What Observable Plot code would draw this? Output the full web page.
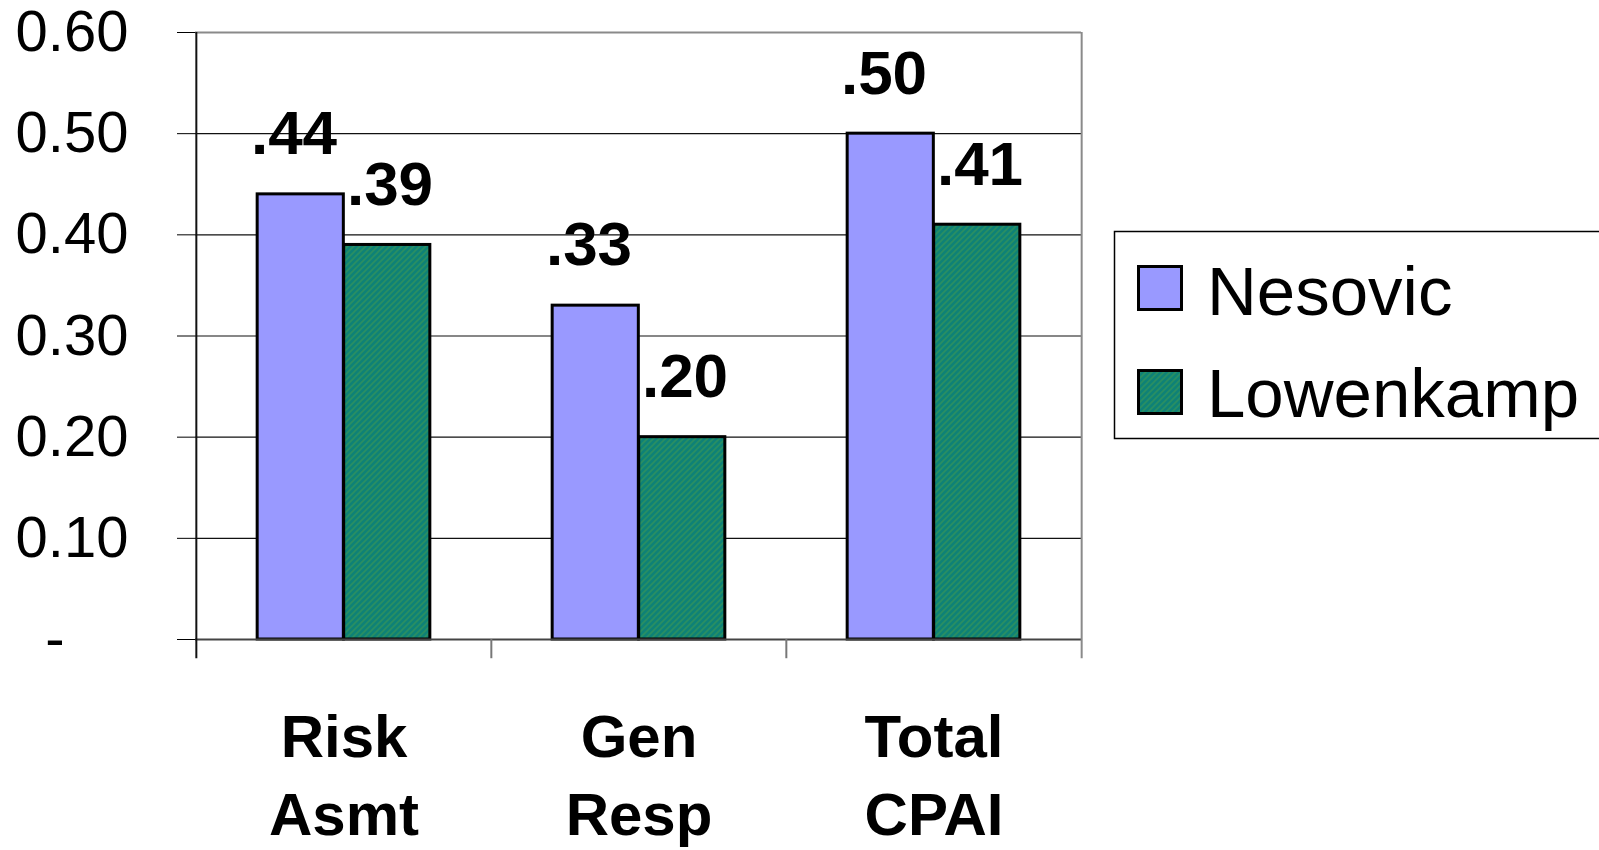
<!DOCTYPE html>
<html>
<head>
<meta charset="utf-8">
<script src="https://cdn.jsdelivr.net/npm/d3@7"></script>
<script src="https://cdn.jsdelivr.net/npm/@observablehq/plot@0.6"></script>
<style>
  html, body { margin: 0; padding: 0; background: #fff; }
  #wrap { position: relative; width: 1599px; height: 850px; overflow: hidden; }
  #legend { position: absolute; left: 1100px; top: 220px; }
</style>
</head>
<body>
<div id="wrap"></div>
<script>
// ---- data ----
const categories = ["Risk Asmt", "Gen Resp", "Total CPAI"];
const categoryLines = [["Risk", "Asmt"], ["Gen", "Resp"], ["Total", "CPAI"]];
const series = ["Nesovic", "Lowenkamp"];
const nesovic = [0.44, 0.33, 0.50];
const lowenkamp = [0.39, 0.20, 0.41];
const yTicks = [0, 0.1, 0.2, 0.3, 0.4, 0.5, 0.6];
const yTickLabels = ["-", "0.10", "0.20", "0.30", "0.40", "0.50", "0.60"];

// ---- styling ----
const FONT = "'Liberation Sans', Arial, Helvetica, sans-serif";
const W = 1599, H = 850;
const mL = 195, mR = 518, mT = 32, mB = 211;
const half = (W - mL - mR) / categories.length / 2;
const barW = 86.5;
const purple = "#9999ff";
const hatch = "url(#hatchGreen)";
const below = -0.019; // separator extension below baseline (in y units)

const nesRows = categories.map((c, i) => ({category: c, value: nesovic[i], series: series[0]}));
const lowRows = categories.map((c, i) => ({category: c, value: lowenkamp[i], series: series[1]}));
const fmt = v => v.toFixed(2).replace(/^0/, "");
const catText = c => categoryLines[categories.indexOf(c)].join("\n");

const plot = Plot.plot({
  width: W, height: H,
  marginLeft: mL, marginRight: mR, marginTop: mT, marginBottom: mB,
  style: {fontFamily: FONT, fontSize: "58px", color: "#000", background: "transparent", overflow: "visible"},
  x: {domain: categories, padding: 0, axis: null},
  y: {domain: [0, 0.6], ticks: yTicks, tickSize: 18, tickPadding: 49,
      tickFormat: d => d === 0 ? "" : yTickLabels[yTicks.indexOf(d)], label: null},
  marks: [
    // gridlines
    Plot.ruleY(yTicks.slice(1, -1), {stroke: "#111", strokeWidth: 1.2}),
    Plot.ruleY([0.6], {stroke: "#8a8a8a", strokeWidth: 2}),
    // bars
    Plot.barY(nesRows, {x: "category", y: "value", fill: purple, stroke: "#000", strokeWidth: 3,
      insetLeft: half - barW, insetRight: half}),
    Plot.barY(lowRows, {x: "category", y: "value", fill: hatch, stroke: "#000", strokeWidth: 3,
      insetLeft: half, insetRight: half - barW}),
    // baseline
    Plot.ruleY([0], {stroke: "#444", strokeWidth: 2}),
    // left axis line
    Plot.ruleX([categories[0]], {x: d => d, y1: below, y2: 0.6, dx: -half, stroke: "#111", strokeWidth: 2}),
    // category separators
    Plot.ruleX(categories.slice(1), {x: d => d, y1: below, y2: 0, dx: -half, stroke: "#777", strokeWidth: 2}),
    // right border
    Plot.ruleX([categories[categories.length - 1]], {x: d => d, y1: below, y2: 0.6, dx: half, stroke: "#8a8a8a", strokeWidth: 2}),
    // "-" zero label
    Plot.text([0], {y: d => d, text: d => yTickLabels[yTicks.indexOf(d)], frameAnchor: "left",
      textAnchor: "end", dx: -131, fontSize: 58}),
    // value labels
    Plot.text(nesRows, {x: "category", y: "value", text: d => fmt(d.value), dx: -50, dy: -60,
      fontSize: 62, fontWeight: "bold", lineAnchor: "middle"}),
    Plot.text(lowRows, {x: "category", y: "value", text: d => fmt(d.value), dx: 46, dy: -60,
      fontSize: 62, fontWeight: "bold", lineAnchor: "middle"}),
    // category labels
    Plot.text(categories, {x: d => d, text: catText, frameAnchor: "bottom", lineAnchor: "top",
      dy: 63, fontSize: 60, fontWeight: "bold", lineHeight: 1.29})
  ]
});

function addPattern(svgNode) {
  const defs = d3.select(svgNode).insert("defs", ":first-child");
  const p = defs.append("pattern").attr("id", "hatchGreen").attr("patternUnits", "userSpaceOnUse")
    .attr("width", 6).attr("height", 6);
  p.append("rect").attr("width", 6).attr("height", 6).attr("fill", "#0e8276");
  p.append("path").attr("d", "M-1,1 l2,-2 M0,6 l6,-6 M5,7 l2,-2")
    .attr("stroke", "#2a8f62").attr("stroke-width", 1.6);
}
addPattern(plot);
document.getElementById("wrap").appendChild(plot);

// ---- legend ----
const legend = d3.create("svg").attr("id", "legend").attr("width", 499).attr("height", 230)
  .style("font-family", FONT);
const ldefs = legend.append("defs");
const lp = ldefs.append("pattern").attr("id", "hatchGreenL").attr("patternUnits", "userSpaceOnUse")
  .attr("width", 6).attr("height", 6);
lp.append("rect").attr("width", 6).attr("height", 6).attr("fill", "#0e8276");
lp.append("path").attr("d", "M-1,1 l2,-2 M0,6 l6,-6 M5,7 l2,-2").attr("stroke", "#2a8f62").attr("stroke-width", 1.6);
legend.append("rect").attr("x", 14.5).attr("y", 11.5).attr("width", 600).attr("height", 207)
  .attr("fill", "#fff").attr("stroke", "#000").attr("stroke-width", 1.5);
const legendFills = [purple, "url(#hatchGreenL)"];
series.forEach((s, i) => {
  legend.append("rect").attr("x", 38.5).attr("y", 46.5 + i * 104).attr("width", 43).attr("height", 43)
    .attr("fill", legendFills[i]).attr("stroke", "#000").attr("stroke-width", 3);
  legend.append("text").attr("x", 107).attr("y", 95 + i * 102).attr("font-size", 69).attr("fill", "#000").text(s);
});
document.getElementById("wrap").appendChild(legend.node());
</script>
</body>
</html>
